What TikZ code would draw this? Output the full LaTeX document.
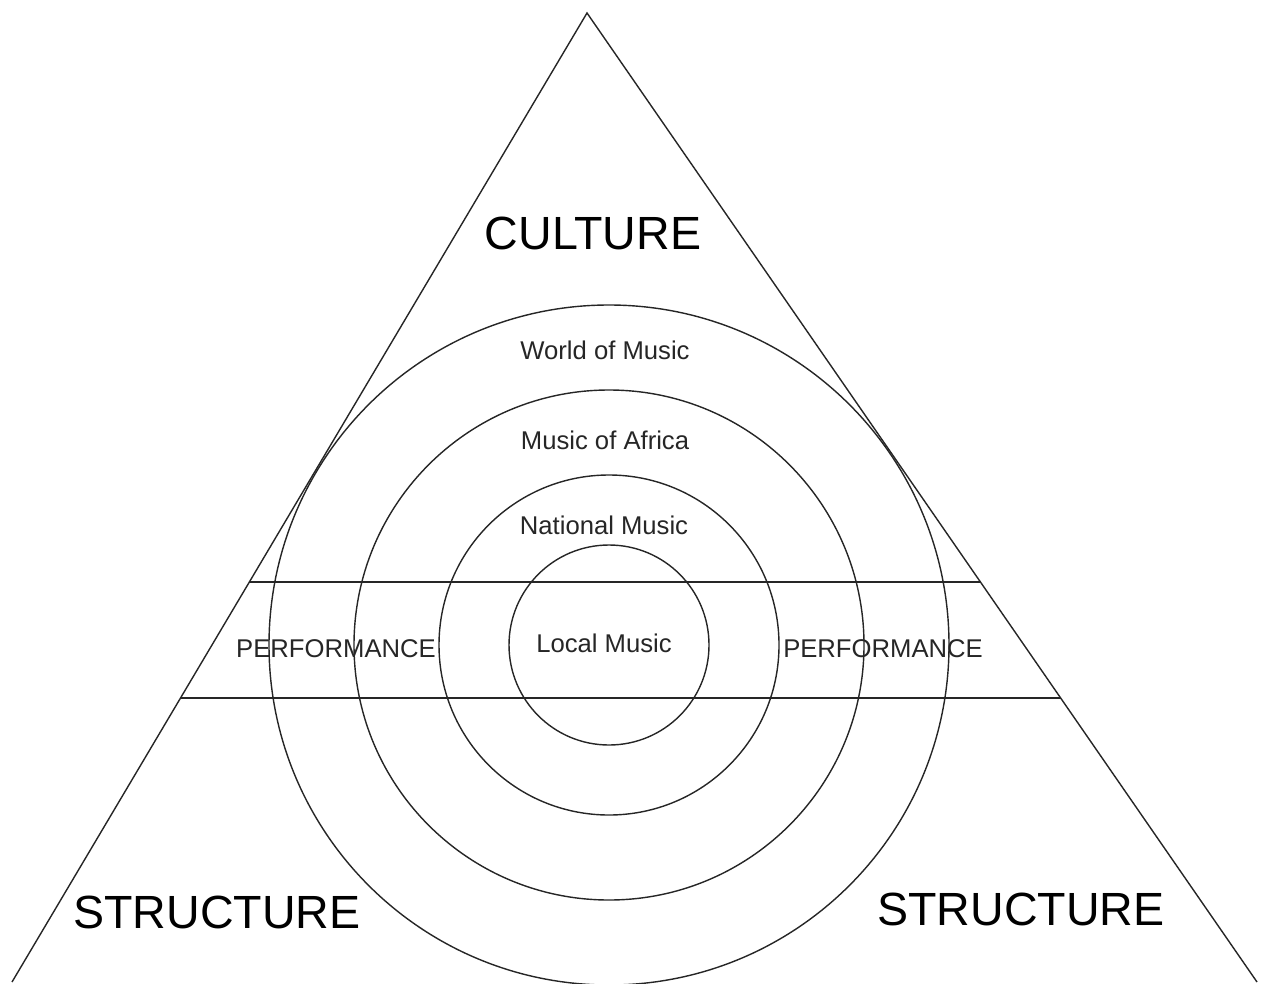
\documentclass[tikz,border=0pt]{standalone}
\usepackage{fontspec}
\setmainfont{Liberation Sans}
\usepackage{tikz}
\usetikzlibrary{positioning}

\begin{document}
\begin{tikzpicture}[x=0.02cm,y=-0.02cm]
  \tikzset{line/.style = {draw=black!85,line width=0.8pt}}
  \tikzset{bigword/.style = {inner sep=0pt,font=\fontsize{26.5}{30}\selectfont}}
  \tikzset{smallword/.style = {inner sep=0pt,font=\fontsize{14.6}{17}\selectfont,text=black!85}}

  \useasboundingbox (0,0) rectangle (1266,983);

	% triangle
	\coordinate (apex) at (587,13);
	\coordinate (bl) at (12,982);
	\coordinate (br) at (1257,982);
	\path[line] (bl) -- (apex) -- (br);

	% performance band
	\coordinate (upl) at (249,582);
	\coordinate (upr) at (980,582);
	\coordinate (lol) at (180,698);
	\coordinate (lor) at (1061,698);
	\path[line] (upl) -- (upr);
	\path[line] (lol) -- (lor);

	% rings
	\coordinate (ctr) at (609,645);
    \foreach \r in {100,170,255,340}
    \path[line] (ctr) circle[radius=\r];

	\node[bigword] (culture) at (593,233) {CULTURE};
	\node[bigword] (structL) at (217,912) {STRUCTURE};
	\node[bigword] (structR) at (1021,909) {STRUCTURE};

	\node[smallword] (world) at (605,350) {World of Music};
	\node[smallword] (africa) at (605,440) {Music of Africa};
	\node[smallword] (national) at (604,525) {National Music};
	\node[smallword] (local) at (604,643) {Local Music};
	\node[smallword] (perfL) at (336,649) {PERFORMANCE};
	\node[smallword] (perfR) at (883,649) {PERFORMANCE};

\end{tikzpicture}
\end{document}
